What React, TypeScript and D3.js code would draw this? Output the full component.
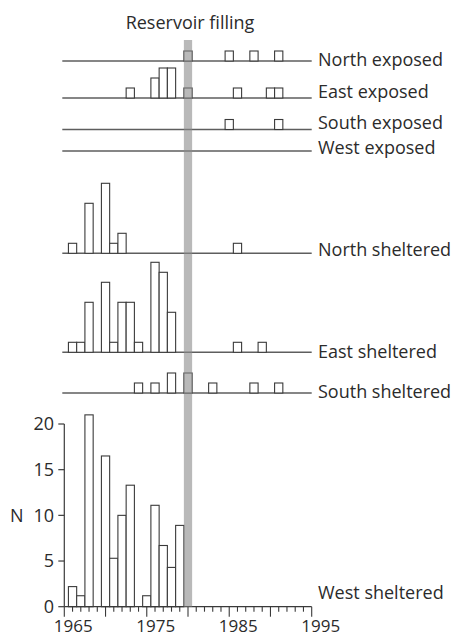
import React from "react";
import * as d3 from "d3";

// ---- data (year, N) ----
const northExposed: [number, number][] = [[1980, 1], [1985, 1], [1988, 1], [1991, 1]];
const eastExposed: [number, number][] = [[1973, 1], [1976, 2], [1977, 3], [1978, 3], [1980, 1], [1986, 1], [1990, 1], [1991, 1]];
const southExposed: [number, number][] = [[1985, 1], [1991, 1]];
const westExposed: [number, number][] = [];
const northSheltered: [number, number][] = [[1966, 1], [1968, 5], [1970, 7], [1971, 1], [1972, 2], [1986, 1]];
const eastSheltered: [number, number][] = [[1966, 1], [1967, 1], [1968, 5], [1970, 7], [1971, 1], [1972, 5], [1973, 5], [1974, 1], [1976, 9], [1977, 8], [1978, 4], [1986, 1], [1989, 1]];
const southSheltered: [number, number][] = [[1974, 1], [1976, 1], [1978, 2], [1980, 2], [1983, 1], [1988, 1], [1991, 1]];
const westSheltered: [number, number][] = [[1966, 2.2], [1967, 1.2], [1968, 21], [1970, 16.5], [1971, 5.3], [1972, 10], [1973, 13.3], [1975, 1.2], [1976, 11.1], [1977, 6.7], [1978, 4.3], [1979, 8.9]];

const panelNames = ["North exposed", "East exposed", "South exposed", "West exposed", "North sheltered", "East sheltered", "South sheltered", "West sheltered"];
const panelData = [northExposed, eastExposed, southExposed, westExposed, northSheltered, eastSheltered, southSheltered, westSheltered];

const reservoirYear = 1980;
const reservoirLabel = "Reservoir filling";
const xTickLabels = [1965, 1975, 1985, 1995];
const yTicks = [0, 5, 10, 15, 20];
const yAxisTitle = "N";

// ---- layout ----
const W = 465, H = 637;
const baselines = [61, 98, 129.5, 151, 253.3, 352.3, 393];
const labelBaselines = [66, 98, 129, 153.5, 256, 357.5, 398, 599];
const FONT = "'Open Sans', 'Noto Sans', sans-serif";
const FS = 18;
const TEXT = "#2b2b2b";

export default function App() {
  const x = d3.scaleLinear().domain([1965, 1995]).range([64.3, 311.7]);
  const y = d3.scaleLinear().domain([0, 20]).range([606.7, 424]);
  const unit = d3.scaleLinear().domain([0, 1]).range([0, 10]);
  const bw = x(1966) - x(1965);
  const allBaselines = [...baselines, y(0)];
  const years = d3.range(1965, 1996);

  return (
    <svg width={W} height={H} style={{ position: "absolute", left: 0, top: 0 }} fontFamily={FONT}>
      <rect width={W} height={H} fill="#fff" />
      {/* title */}
      <text x={x(reservoirYear) + 2} y={29} textAnchor="middle" fontSize={FS} fill={TEXT}>{reservoirLabel}</text>

      {/* panel baselines */}
      {allBaselines.slice(0, 7).map((b, i) => (
        <line key={"bl" + i} x1={x(1965) - 2} x2={x(1995)} y1={b} y2={b} stroke="#5e5e5e" strokeWidth={1.5} />
      ))}

      {/* bars */}
      {panelData.map((d, i) => {
        const b = allBaselines[i];
        const isAxis = i === 7;
        return d.map(([yr, n]) => {
          const h = isAxis ? y(0) - y(n) : unit(n);
          return (
            <rect key={`r${i}-${yr}`} x={x(yr) - bw / 2} y={b - h} width={bw} height={h}
              fill="#fff" stroke="#3a3a3a" strokeWidth={1.1} />
          );
        });
      })}

      {/* bottom axes */}
      <line x1={x(1965)} x2={x(1965)} y1={y(20)} y2={y(0)} stroke="#3a3a3a" strokeWidth={1.2} />
      <line x1={x(1965)} x2={x(1995)} y1={y(0)} y2={y(0)} stroke="#3a3a3a" strokeWidth={1.2} />
      {yTicks.map((t) => (
        <g key={"yt" + t}>
          <line x1={x(1965) - 6} x2={x(1965)} y1={y(t)} y2={y(t)} stroke="#3a3a3a" strokeWidth={1.2} />
          <text x={54} y={y(t)} dy="0.35em" textAnchor="end" fontSize={FS} fill={TEXT}>{t}</text>
        </g>
      ))}
      <text x={10} y={y(10)} dy="0.35em" fontSize={FS} fill={TEXT}>{yAxisTitle}</text>
      {years.map((yr) => (
        <line key={"xt" + yr} x1={x(yr)} x2={x(yr)} y1={y(0)} y2={y(0) + (yr % 5 === 0 ? 10 : 5)} stroke="#3a3a3a" strokeWidth={1.1} />
      ))}
      {xTickLabels.map((t) => (
        <text key={"xl" + t} x={x(t) + 9} y={632} textAnchor="middle" fontSize={17} fill={TEXT}>{t}</text>
      ))}

      {/* reservoir band */}
      <rect x={x(reservoirYear) - bw / 2} y={40} width={bw} height={y(0) - 40} fill="#8a8a8a" opacity={0.6} />

      {/* panel labels */}
      {panelNames.map((name, i) => (
        <text key={"pl" + i} x={318} y={labelBaselines[i]} fontSize={FS} fill={TEXT}>{name}</text>
      ))}
    </svg>
  );
}
